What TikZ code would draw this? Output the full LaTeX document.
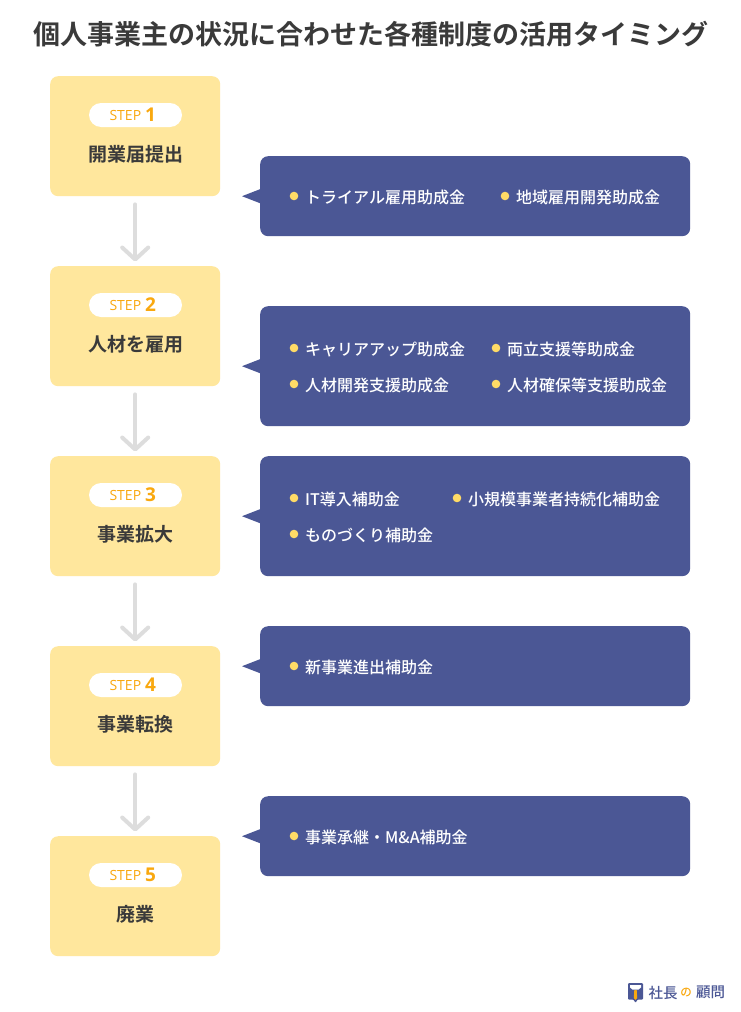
\documentclass[tikz,border=0pt]{standalone}
\usepackage{fontspec}
\setmainfont{Noto Sans CJK JP}[BoldFont={Noto Sans CJK JP Bold}]
\newfontfamily\medf{Noto Sans CJK JP Medium}
\newfontfamily\latinf{Open Sans}
\usetikzlibrary{arrows.meta,calc}
\definecolor{boxy}{HTML}{FFE79D}
\definecolor{navy}{HTML}{4B5795}
\definecolor{doty}{HTML}{FFDB66}
\definecolor{orangeq}{HTML}{F9A80F}
\definecolor{ink}{HTML}{3A3A3A}
\definecolor{arrowg}{HTML}{DDDDDD}
\tikzset{
 x=1pt,y=-1pt,
 stepbox/.style={fill=boxy,rounded corners=8pt,minimum width=170pt,minimum height=120pt,inner sep=0pt,anchor=north west},
 pill/.style={fill=white,rounded corners=12pt,minimum width=93pt,minimum height=24pt,inner sep=0pt},
 steplabel/.style={text=ink,font=\fontsize{19}{20}\selectfont\bfseries,inner sep=0pt},
 callout/.style={fill=navy,rounded corners=8pt,minimum width=430pt,inner sep=0pt,anchor=north west},
 item/.style={text=white,font=\medf\fontsize{16}{18}\selectfont,anchor=west,inner sep=0pt},
 dot/.style={circle,fill=doty,minimum size=8.6pt,inner sep=0pt},
 flow/.style={draw=arrowg,line width=4pt,line cap=round,shorten <=8pt,shorten >=4.5pt,-{Straight Barb[length=12pt,width=26pt,line width=4pt,round]}},
 tailtri/.style={fill=navy,draw=none},
}
\newcommand{\stepblock}[3]{%
 \node[stepbox] (s#1) at (50,#2) {};
 \node[pill] (p#1) at (135.5,#2+39) {};
 \node[text=orangeq,inner sep=0pt,font=\latinf\fontsize{14}{14}\selectfont] (q#1) at (132.8,#2+38.5) {STEP\hspace{4pt}\raisebox{-0.5pt}{\fontsize{19}{20}\selectfont\bfseries #1}};
 \node[steplabel] (l#1) at (135.8,#2+78) {#3};
}
\newcommand{\calloutblock}[3]{%
 \node[callout,minimum height=#3pt] (c#1) at (260,#2) {};
 \fill[tailtri] ($(c#1.west)+(0,-7)$) -- ($(c#1.west)+(-18,0)$) -- ($(c#1.west)+(0,7)$) -- cycle;
}
\newcommand{\bulletitem}[4]{%
 \node[dot] (d#1) at (#2,#3) {};
 \node[item] (t#1) at (#2+11,#3+1.3) {#4};
}
\begin{document}
\begin{tikzpicture}
\useasboundingbox (0,0) rectangle (740,1012);
\fill[white] (0,0) rectangle (740,1012);
\node[text=ink,font=\fontsize{27}{30}\selectfont\bfseries,inner sep=0pt] (title) at (370.7,34) {個人事業主の状況に合わせた各種制度の活用タイミング};

\stepblock{1}{76}{開業届提出}
\stepblock{2}{266}{人材を雇用}
\stepblock{3}{456}{事業拡大}
\stepblock{4}{646}{事業転換}
\stepblock{5}{836}{廃業}

\draw[flow] (s1) -- (s2);
\draw[flow] (s2) -- (s3);
\draw[flow] (s3) -- (s4);
\draw[flow] (s4) -- (s5);

\calloutblock{1}{156}{80}
\calloutblock{2}{306}{120}
\calloutblock{3}{456}{120}
\calloutblock{4}{626}{80}
\calloutblock{5}{796}{80}

\bulletitem{a}{294}{196}{トライアル雇用助成金}
\bulletitem{b}{505}{196}{地域雇用開発助成金}
\bulletitem{c}{294}{348}{キャリアアップ助成金}
\bulletitem{d}{496}{348}{両立支援等助成金}
\bulletitem{e}{294}{384}{人材開発支援助成金}
\bulletitem{f}{496}{384}{人材確保等支援助成金}
\bulletitem{g}{294}{498}{IT導入補助金}
\bulletitem{h}{457}{498}{小規模事業者持続化補助金}
\bulletitem{i}{294}{534}{ものづくり補助金}
\bulletitem{j}{294}{666}{新事業進出補助金}
\bulletitem{k}{294}{836}{事業承継・M\&A補助金}

% logo
\fill[navy,rounded corners=1pt] (628,983) -- (643,983) -- (643,999.5) -- (637.5,999.5) -- (635.5,1003) -- (633.5,999.5) -- (628,999.5) -- cycle;
\fill[white] (630,985) -- (641,985) -- (641,987.5) -- (638.5,989.5) -- (632.5,989.5) -- (630,987.5) -- cycle;
\fill[orangeq] (634.3,990) -- (636.7,990) -- (637.2,998) -- (635.5,1000) -- (633.8,998) -- cycle;
\node[text=navy,font=\medf\fontsize{14.5}{16}\selectfont,inner sep=0pt] (lg1) at (663,992.5) {社長};
\node[text=orangeq,font=\medf\fontsize{11.5}{12}\selectfont,inner sep=0pt] (lg2) at (686,993) {の};
\node[text=navy,font=\medf\fontsize{14.5}{16}\selectfont,inner sep=0pt] (lg3) at (710.5,992.5) {顧問};
\end{tikzpicture}
\end{document}
